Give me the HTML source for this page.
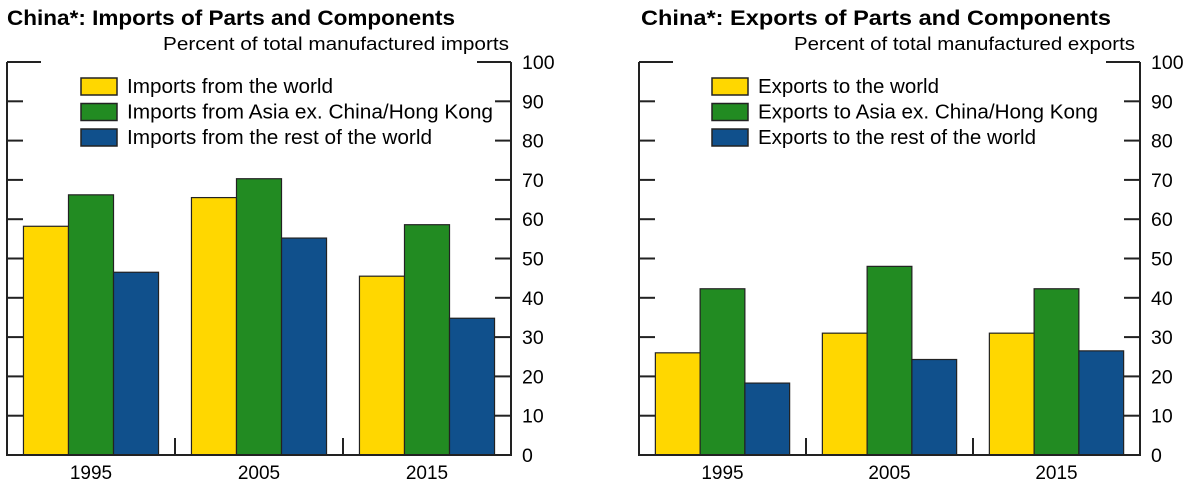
<!DOCTYPE html>
<html><head><meta charset="utf-8"><style>
html,body{margin:0;padding:0;background:#fff;}
svg{display:block;font-family:"Liberation Sans",Arial,sans-serif;}
</style></head><body>
<svg id="chart" width="1200" height="482" viewBox="0 0 1200 482" xmlns="http://www.w3.org/2000/svg"></svg>
<script>
const categories = ["1995", "2005", "2015"];
const importsWorld = [58.2, 65.5, 45.5];
const importsAsia = [66.2, 70.3, 58.6];
const importsRest = [46.5, 55.2, 34.8];
const exportsWorld = [26.0, 31.0, 31.0];
const exportsAsia = [42.3, 48.0, 42.3];
const exportsRest = [18.3, 24.3, 26.5];
const yTicks = [0, 10, 20, 30, 40, 50, 60, 70, 80, 90, 100];
const importLabels = ["Imports from the world", "Imports from Asia ex. China/Hong Kong", "Imports from the rest of the world"];
const exportLabels = ["Exports to the world", "Exports to Asia ex. China/Hong Kong", "Exports to the rest of the world"];
const colors = ["#FFD700", "#228B22", "#10508C"];

const NS = "http://www.w3.org/2000/svg";
const svg = document.getElementById("chart");
function mk(tag, attrs, parent, text) {
  const e = document.createElementNS(NS, tag);
  for (const k in attrs) e.setAttribute(k, attrs[k]);
  if (text !== undefined) e.textContent = text;
  (parent || svg).appendChild(e);
  return e;
}

function panel(cfg) {
  const g = mk("g", {});
  
  
  const L = cfg.left, R = cfg.right, T = 62, B = 455;
  const y = v => B - (v / 100) * (B - T);
  const gw = (R - L) / categories.length;
  const bw = gw * 0.268;
  const xg = i => L + gw * i + gw / 2;

  const title = mk("text", {x: cfg.titleX, y: 25, "font-size": 21, "font-weight": "bold", fill: "#000", textLength: cfg.titleLen, lengthAdjust: "spacingAndGlyphs"}, g, cfg.title);
  
  
  const sub = mk("text", {x: cfg.subEnd - cfg.subLen, y: 50, "font-size": 18, fill: "#000", textLength: cfg.subLen, lengthAdjust: "spacingAndGlyphs"}, g, cfg.subtitle);
  
  

  cfg.series.forEach((vals, s) => {
    vals.forEach((v, i) => {
      const x0 = xg(i) - 1.5 * bw + s * bw;
      const r = mk("rect", {x: x0, y: y(v), width: bw, height: B - y(v), fill: colors[s], stroke: "#222", "stroke-width": 1.2}, g);
      
      
    });
  });

  const axis = mk("path", {d: `M${L},${T} H${L + 34} M${R - 34},${T} H${R} M${L},${T} V${B} H${R} V${T}`, fill: "none", stroke: "#222", "stroke-width": 2}, g);
  
  

  yTicks.forEach(t => {
    if (t > 0 && t < 100) {
      mk("line", {x1: L, x2: L + 16, y1: y(t), y2: y(t), stroke: "#222", "stroke-width": 2}, g);
      mk("line", {x1: R - 16, x2: R, y1: y(t), y2: y(t), stroke: "#222", "stroke-width": 2}, g);
    }
    const lb = mk("text", {x: R + 11, y: y(t) + 7, "font-size": 19.5, fill: "#000"}, g, String(t));
    
    
  });
  for (let i = 1; i < categories.length; i++) {
    mk("line", {x1: L + gw * i, x2: L + gw * i, y1: B - 17, y2: B, stroke: "#222", "stroke-width": 2}, g);
  }
  categories.forEach((c, i) => {
    const t = mk("text", {x: xg(i), y: 479, "font-size": 19, "text-anchor": "middle", fill: "#000"}, g, c);
    
    
  });

  cfg.labels.forEach((lab, s) => {
    const cy = 86 + s * 25.5;
    const sw = mk("rect", {x: cfg.legX, y: cy - 8, width: 36, height: 17, fill: colors[s], stroke: "#222", "stroke-width": 1.5}, g);
    
    
    const lt = mk("text", {x: cfg.legX + 46, y: cy + 7, "font-size": 20, fill: "#000", textLength: cfg.legLens[s], lengthAdjust: "spacingAndGlyphs"}, g, lab);
    
    
  });
}

panel({name: "imports-panel", left: 7, right: 511, titleX: 7, titleLen: 448, subEnd: 509, subLen: 346,
  title: "China*:  Imports of Parts and Components",
  subtitle: "Percent of total manufactured imports",
  series: [importsWorld, importsAsia, importsRest], labels: importLabels, legX: 81, legLens: [206, 366, 305]});
panel({name: "exports-panel", left: 639, right: 1140, titleX: 641, titleLen: 470, subEnd: 1135, subLen: 341,
  title: "China*:  Exports of Parts and Components",
  subtitle: "Percent of total manufactured exports",
  series: [exportsWorld, exportsAsia, exportsRest], labels: exportLabels, legX: 712, legLens: [181, 340, 278]});
</script>
</body></html>
